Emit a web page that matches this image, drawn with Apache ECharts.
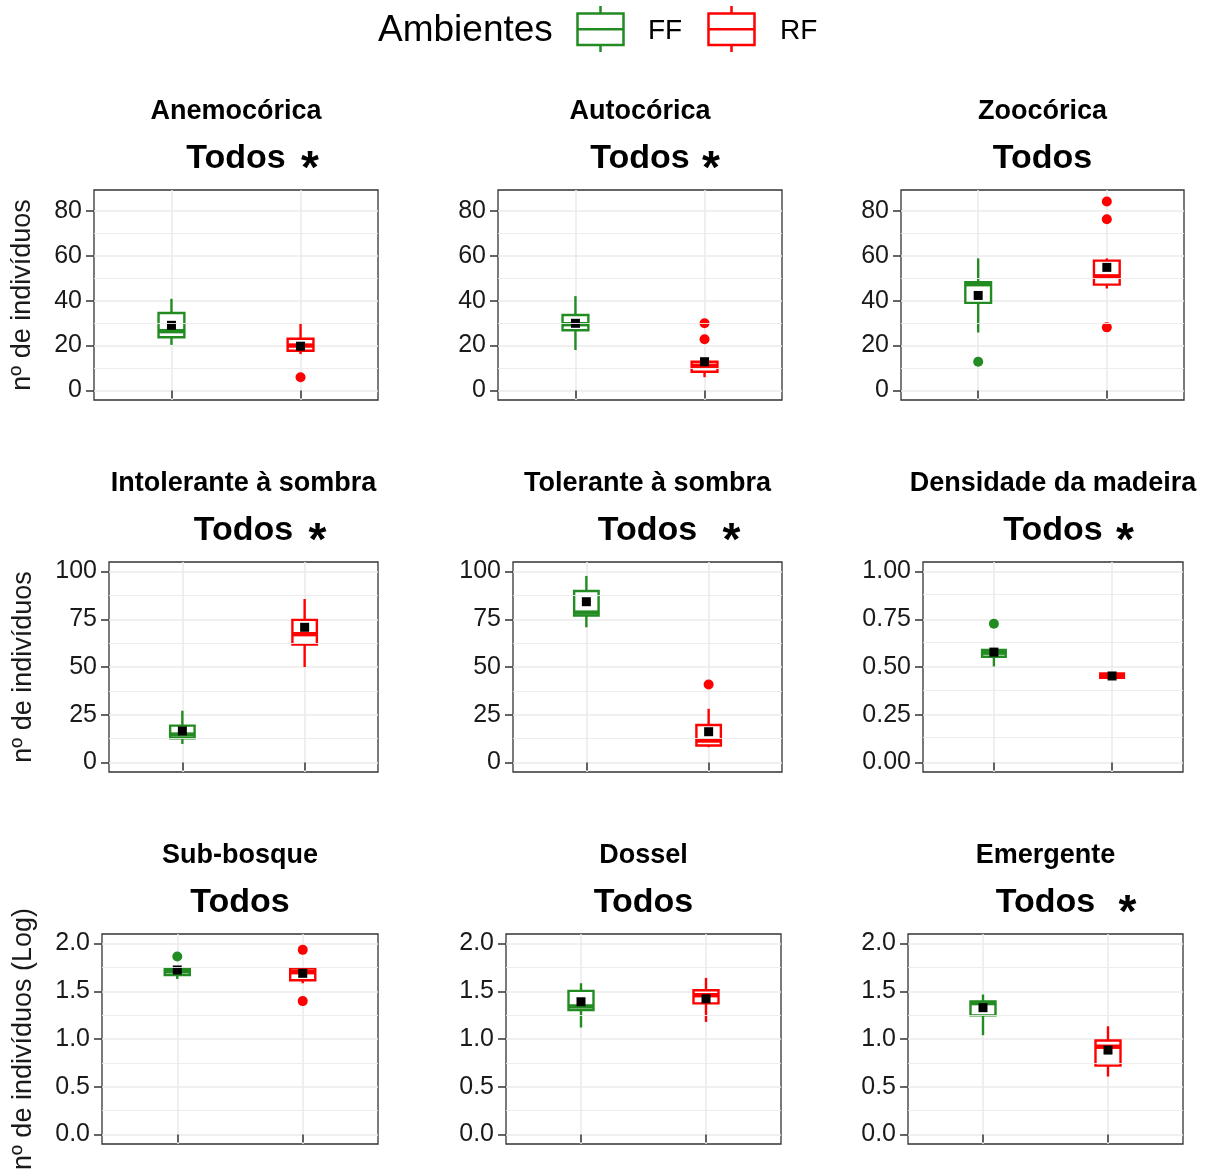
<!DOCTYPE html>
<html>
<head>
<meta charset="utf-8">
<script src="https://cdn.jsdelivr.net/npm/echarts@6/dist/echarts.min.js"></script>
<style>
  html, body { margin: 0; padding: 0; background: #ffffff; }
  #chart { width: 1210px; height: 1169px; }
</style>
</head>
<body>
<div id="chart"></div>
<script>
// ---- data -------------------------------------------------------------
const environments = ['FF', 'RF'];
const envColors = ['#228B22', '#FF0000'];

const panelNames = [
  'Anemocórica', 'Autocórica', 'Zoocórica',
  'Intolerante à sombra', 'Tolerante à sombra', 'Densidade da madeira',
  'Sub-bosque', 'Dossel', 'Emergente'
];
const groupLabel = 'Todos';
const significant = [true, true, false, true, true, true, false, false, true];

// box summaries: [lower whisker, Q1, median, Q3, upper whisker]
const ffBoxes = [
  [20.3, 23.7, 26.4, 34.5, 40.8],
  [18.0, 26.8, 29.5, 33.6, 42.0],
  [25.8, 39.0, 47.3, 48.2, 58.8],
  [9.7, 12.7, 14.6, 19.3, 27.1],
  [70.8, 76.9, 78.5, 89.8, 97.7],
  [0.503, 0.554, 0.575, 0.589, 0.600],
  [1.629, 1.671, 1.710, 1.737, 1.750],
  [1.120, 1.303, 1.341, 1.504, 1.584],
  [1.040, 1.248, 1.376, 1.393, 1.466]
];
const rfBoxes = [
  [16.2, 17.7, 20.0, 23.0, 29.9],
  [5.9, 8.3, 11.0, 12.8, 14.0],
  [45.4, 47.1, 50.8, 57.8, 58.8],
  [50.0, 61.8, 67.2, 74.7, 85.6],
  [8.0, 8.9, 11.5, 19.6, 28.1],
  [0.440, 0.443, 0.455, 0.466, 0.472],
  [1.584, 1.615, 1.700, 1.737, 1.750],
  [1.179, 1.373, 1.459, 1.511, 1.640],
  [0.607, 0.721, 0.919, 0.984, 1.133]
];
const ffMeans = [29.0, 29.9, 42.3, 16.5, 84.2, 0.578, 1.723, 1.390, 1.328];
const rfMeans = [19.7, 12.8, 54.8, 70.8, 16.1, 0.453, 1.688, 1.421, 0.884];
const ffOutliers = [[], [], [12.8], [], [], [0.727], [1.865], [], []];
const rfOutliers = [[5.9], [29.9, 22.8], [84.1, 76.2, 28.1], [], [40.8], [], [1.934, 1.397], [], []];

// y scale limits and tick labels for each panel
const yLimits = [
  [0, 85], [0, 85], [0, 85],
  [0, 100], [0, 100], [0, 1],
  [0, 2], [0, 2], [0, 2]
];
const yTicks = [
  [0, 20, 40, 60, 80], [0, 20, 40, 60, 80], [0, 20, 40, 60, 80],
  [0, 25, 50, 75, 100], [0, 25, 50, 75, 100], [0, 0.25, 0.5, 0.75, 1],
  [0, 0.5, 1, 1.5, 2], [0, 0.5, 1, 1.5, 2], [0, 0.5, 1, 1.5, 2]
];
const yDecimals = [0, 0, 0, 0, 0, 2, 1, 1, 1];
const yTitles = ['nº de indivíduos', 'nº de indivíduos', 'nº de indivíduos (Log)'];
const legendTitle = 'Ambientes';

// ---- layout -----------------------------------------------------------
const FONT = '"Liberation Sans", Arial, Helvetica, sans-serif';
const panels = [
  [94, 190, 284, 210], [498, 190, 284, 210], [901, 190, 283, 210],
  [109, 562, 269, 210], [513, 562, 269, 210], [923, 562, 260, 210],
  [102, 934, 276, 210], [506, 934, 275, 210], [908, 934, 275, 210]
];
const starOffset = [74, 71, 0, 74, 84, 72, 0, 0, 82];
const yNameGap = [58, 72, 65];
const BOX_HALF = 0.1;
const GRID_COLOR = '#EBEBEB';
const INK = '#333333';
const TITLE_SHIFT = -5;

function midpoints(ticks) {
  const out = [];
  for (let k = 0; k < ticks.length - 1; k++) out.push((ticks[k] + ticks[k + 1]) / 2);
  return out;
}

function renderBox(params, api) {
  const x = api.value(0);
  const lo = api.coord([x, api.value(1)]);
  const q1 = api.coord([x, api.value(2)]);
  const med = api.coord([x, api.value(3)]);
  const q3 = api.coord([x, api.value(4)]);
  const hi = api.coord([x, api.value(5)]);
  const left = api.coord([x - BOX_HALF, api.value(3)])[0];
  const right = api.coord([x + BOX_HALF, api.value(3)])[0];
  const color = envColors[params.dataIndex];
  return {
    type: 'group',
    children: [
      { type: 'line', shape: { x1: lo[0], y1: lo[1], x2: hi[0], y2: hi[1] },
        style: { stroke: color, lineWidth: 2.4 } },
      { type: 'rect', shape: { x: left, y: q3[1], width: right - left, height: q1[1] - q3[1] },
        style: { fill: '#ffffff', stroke: color, lineWidth: 2.4 } },
      { type: 'line', shape: { x1: left, y1: med[1], x2: right, y2: med[1] },
        style: { stroke: color, lineWidth: 4.4 } }
    ]
  };
}

const grids = [], xAxes = [], yAxes = [], series = [], titles = [];

panels.forEach((p, i) => {
  const [left, top, width, height] = p;
  const cx = left + width / 2 + TITLE_SHIFT;
  const row = Math.floor(i / 3);
  const [lo, hi] = yLimits[i];
  const pad = (hi - lo) * 0.05;

  grids.push({ left, top, width, height, show: true, borderColor: INK, borderWidth: 1.3,
               backgroundColor: 'transparent', containLabel: false, outerBoundsMode: 'none' });

  xAxes.push({
    type: 'value', gridIndex: i, min: 0.4, max: 2.6,
    axisLine: { show: false },
    axisTick: { show: true, customValues: [1, 2], length: 8, lineStyle: { color: INK, width: 1.5 } },
    axisLabel: { show: false, customValues: [1, 2] },
    splitLine: { show: true, lineStyle: { color: GRID_COLOR, width: 1.6 } }
  });

  yAxes.push({
    type: 'value', gridIndex: i, min: lo - pad, max: hi + pad,
    axisLine: { show: false },
    axisTick: { show: true, customValues: yTicks[i], length: 8, lineStyle: { color: INK, width: 1.5 } },
    axisLabel: {
      customValues: yTicks[i], fontSize: 25, fontFamily: FONT, color: '#1a1a1a', margin: 12,
      formatter: v => Number(v).toFixed(yDecimals[i])
    },
    splitLine: { show: true, lineStyle: { color: GRID_COLOR, width: 1.6 } },
    name: i % 3 === 0 ? yTitles[row] : '',
    nameLocation: 'middle', nameGap: yNameGap[row],
    nameTextStyle: { fontSize: 27, fontFamily: FONT, color: '#1a1a1a' }
  });

  // minor horizontal grid lines between labelled ticks
  series.push({
    type: 'line', xAxisIndex: i, yAxisIndex: i, data: [], z: 0, silent: true,
    markLine: {
      silent: true, symbol: ['none', 'none'], label: { show: false },
      lineStyle: { color: GRID_COLOR, width: 0.9, type: 'solid' },
      emphasis: { disabled: true },
      data: midpoints(yTicks[i]).map(v => ({ yAxis: v }))
    }
  });

  // boxes with whiskers and median
  series.push({
    type: 'custom', xAxisIndex: i, yAxisIndex: i, z: 2,
    renderItem: renderBox,
    encode: { x: 0, y: [1, 2, 3, 4, 5] },
    data: [[1].concat(ffBoxes[i]), [2].concat(rfBoxes[i])]
  });

  // outliers
  series.push({
    type: 'scatter', name: environments[0], xAxisIndex: i, yAxisIndex: i, z: 3,
    symbol: 'circle', symbolSize: 10, itemStyle: { color: envColors[0], opacity: 1 },
    data: ffOutliers[i].map(v => [1, v])
  });
  series.push({
    type: 'scatter', name: environments[1], xAxisIndex: i, yAxisIndex: i, z: 3,
    symbol: 'circle', symbolSize: 10, itemStyle: { color: envColors[1], opacity: 1 },
    data: rfOutliers[i].map(v => [2, v])
  });

  // means
  series.push({
    type: 'scatter', xAxisIndex: i, yAxisIndex: i, z: 4,
    symbol: 'rect', symbolSize: 9, itemStyle: { color: '#000000', opacity: 1 },
    data: [[1, ffMeans[i]], [2, rfMeans[i]]]
  });

  // panel titles
  titles.push({
    text: panelNames[i], left: cx, top: 93 + row * 372, textAlign: 'center',
    textStyle: { fontSize: 27, fontWeight: 'bold', fontFamily: FONT, color: '#000' }
  });
  titles.push({
    text: groupLabel, left: cx, top: 137 + row * 372, textAlign: 'center',
    textStyle: { fontSize: 34, fontWeight: 'bold', fontFamily: FONT, color: '#000' }
  });
  if (significant[i]) {
    titles.push({
      text: '*', left: cx + starOffset[i], top: 142 + row * 372, textAlign: 'center',
      textStyle: { fontSize: 46, fontWeight: 'bold', fontFamily: FONT, color: '#000' }
    });
  }
});

// legend drawn as box-glyph keys
function legendKey(x, color) {
  return [
    { type: 'line', shape: { x1: x + 23, y1: 6, x2: x + 23, y2: 52 }, style: { stroke: color, lineWidth: 2.5 } },
    { type: 'rect', shape: { x: x, y: 13.5, width: 46, height: 31.5 },
      style: { fill: '#ffffff', stroke: color, lineWidth: 2.5 } },
    { type: 'line', shape: { x1: x, y1: 29.3, x2: x + 46, y2: 29.3 }, style: { stroke: color, lineWidth: 2.5 } }
  ];
}

const graphic = [
  { type: 'text', left: 378, top: 12,
    style: { text: legendTitle, fontSize: 37, fontFamily: FONT, fill: '#000' } },
  ...legendKey(577.5, envColors[0]),
  { type: 'text', left: 648, top: 17,
    style: { text: environments[0], fontSize: 28, fontFamily: FONT, fill: '#000' } },
  ...legendKey(708.5, envColors[1]),
  { type: 'text', left: 780, top: 17,
    style: { text: environments[1], fontSize: 28, fontFamily: FONT, fill: '#000' } }
];

const chart = echarts.init(document.getElementById('chart'), null, { renderer: 'canvas' });
chart.setOption({
  animation: false,
  backgroundColor: '#ffffff',
  title: titles,
  grid: grids,
  xAxis: xAxes,
  yAxis: yAxes,
  series: series,
  graphic: graphic
});
</script>
</body>
</html>
